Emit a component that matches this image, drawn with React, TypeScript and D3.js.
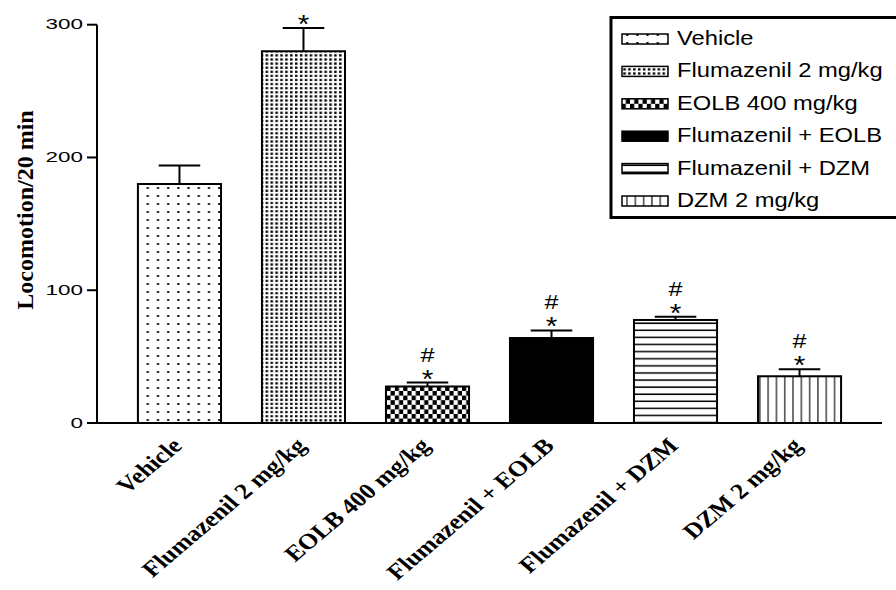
import * as d3 from "d3"
import { useEffect, useRef } from "react"

const categories = [
  "Vehicle",
  "Flumazenil 2 mg/kg",
  "EOLB 400 mg/kg",
  "Flumazenil + EOLB",
  "Flumazenil + DZM",
  "DZM 2 mg/kg",
]
const means = [180, 280, 27.5, 64, 77.6, 35.2]
const errors = [14, 17.5, 3, 5.7, 2.5, 5.3]
const starFlags = [false, true, true, true, true, true]
const hashFlags = [false, false, true, true, true, true]
const yTicks = [0, 100, 200, 300]

const WIDTH = 896
const HEIGHT = 590

const BarChart = () => {
  const svgRef = useRef<SVGSVGElement>(null)

  useEffect(() => {
    if (!svgRef.current) return
    const svg = d3.select(svgRef.current)
    svg.selectAll("*").remove()

    // patterns for the bar fills
    const defs = svg.append("defs")
    const pattern = (id: string, w: number, h: number) => {
      const p = defs
        .append("pattern")
        .attr("id", id)
        .attr("patternUnits", "userSpaceOnUse")
        .attr("width", w)
        .attr("height", h)
      p.append("rect").attr("width", w).attr("height", h).attr("fill", "#fff")
      return p
    }
    pattern("pat-dots", 10.2, 8)
      .append("rect")
      .attr("x", 4)
      .attr("y", 3)
      .attr("width", 2)
      .attr("height", 2)
      .attr("fill", "#000")
    pattern("pat-dense", 4.9, 4.1)
      .append("rect")
      .attr("x", 1)
      .attr("y", 1)
      .attr("width", 2.5)
      .attr("height", 2.2)
      .attr("fill", "#000")
    const chk = pattern("pat-check", 8.4, 9.2)
    chk.append("rect").attr("width", 4.2).attr("height", 4.6).attr("fill", "#000")
    chk
      .append("rect")
      .attr("x", 4.2)
      .attr("y", 4.6)
      .attr("width", 4.2)
      .attr("height", 4.6)
      .attr("fill", "#000")
    pattern("pat-hlines", 10, 7.1)
      .append("rect")
      .attr("y", 3)
      .attr("width", 10)
      .attr("height", 1.5)
      .attr("fill", "#000")
    pattern("pat-vlines", 8.3, 10)
      .append("rect")
      .attr("x", 4)
      .attr("width", 1.1)
      .attr("height", 10)
      .attr("fill", "#000")

    const fills = [
      "url(#pat-dots)",
      "url(#pat-dense)",
      "url(#pat-check)",
      "#000",
      "url(#pat-hlines)",
      "url(#pat-vlines)",
    ]

    const xScale = d3
      .scaleBand()
      .domain(categories)
      .range([97, 882])
      .paddingInner(0.33)
      .paddingOuter(0.33)

    const yScale = d3.scaleLinear().domain([0, 300]).range([423, 24.7])

    const data = categories.map((c, i) => ({
      name: c,
      mean: means[i],
      err: errors[i],
      star: starFlags[i],
      hash: hashFlags[i],
      fill: fills[i],
    }))

    // error bars
    const bw = xScale.bandwidth()
    const cx = (d: { name: string }) => (xScale(d.name) ?? 0) + bw / 2
    svg
      .selectAll("line.err")
      .data(data)
      .join("line")
      .attr("class", "err")
      .attr("x1", cx)
      .attr("x2", cx)
      .attr("y1", (d) => yScale(d.mean))
      .attr("y2", (d) => yScale(d.mean + d.err))
      .attr("stroke", "#000")
      .attr("stroke-width", 2)
    svg
      .selectAll("line.cap")
      .data(data)
      .join("line")
      .attr("class", "cap")
      .attr("x1", (d) => cx(d) - bw / 4)
      .attr("x2", (d) => cx(d) + bw / 4)
      .attr("y1", (d) => yScale(d.mean + d.err))
      .attr("y2", (d) => yScale(d.mean + d.err))
      .attr("stroke", "#000")
      .attr("stroke-width", 2)

    // bars
    svg
      .selectAll("rect.bar")
      .data(data)
      .join("rect")
      .attr("class", "bar")
      .attr("x", (d) => xScale(d.name) ?? 0)
      .attr("y", (d) => yScale(d.mean))
      .attr("width", bw)
      .attr("height", (d) => yScale(0) - yScale(d.mean))
      .attr("fill", (d) => d.fill)
      .attr("stroke", "#000")
      .attr("stroke-width", 2)

    // significance marks
    svg
      .selectAll("text.star")
      .data(data.filter((d) => d.star))
      .join("text")
      .attr("class", "star")
      .attr(
        "transform",
        (d) => `translate(${cx(d)},${yScale(d.mean + d.err) + 5}) scale(1.15,1)`,
      )
      .attr("text-anchor", "middle")
      .attr("font-family", "Liberation Sans, Arial, sans-serif")
      .attr("font-size", 26)
      .text("*")
    svg
      .selectAll("text.hash")
      .data(data.filter((d) => d.hash))
      .join("text")
      .attr("class", "hash")
      .attr(
        "transform",
        (d) => `translate(${cx(d)},${yScale(d.mean + d.err) - 21}) scale(1.2,1)`,
      )
      .attr("text-anchor", "middle")
      .attr("font-family", "Liberation Sans, Arial, sans-serif")
      .attr("font-size", 21)
      .text("#")

    // axes
    svg
      .append("line")
      .attr("x1", 97)
      .attr("x2", 97)
      .attr("y1", yScale(300))
      .attr("y2", yScale(0))
      .attr("stroke", "#000")
      .attr("stroke-width", 2)
    svg
      .append("line")
      .attr("x1", 96)
      .attr("x2", xScale.range()[1])
      .attr("y1", yScale(0))
      .attr("y2", yScale(0))
      .attr("stroke", "#000")
      .attr("stroke-width", 2)
    svg
      .selectAll("line.tick")
      .data(yTicks)
      .join("line")
      .attr("class", "tick")
      .attr("x1", 87)
      .attr("x2", 97)
      .attr("y1", (d) => yScale(d))
      .attr("y2", (d) => yScale(d))
      .attr("stroke", "#000")
      .attr("stroke-width", 2)
    svg
      .selectAll("text.tick")
      .data(yTicks)
      .join("text")
      .attr("class", "tick")
      .attr("transform", (d) => `translate(83,${yScale(d) + 4.5}) scale(1.45,1)`)
      .attr("text-anchor", "end")
      .attr("font-family", "Liberation Sans, Arial, sans-serif")
      .attr("font-size", 15.5)
      .text((d) => d)

    // y-axis label
    svg
      .append("text")
      .attr("transform", "translate(33,210) rotate(-90)")
      .attr("text-anchor", "middle")
      .attr("font-family", "Liberation Serif, Times New Roman, serif")
      .attr("font-weight", "bold")
      .attr("font-size", 24)
      .text("Locomotion/20 min")

    // category labels
    svg
      .selectAll("text.cat")
      .data(data)
      .join("text")
      .attr("class", "cat")
      .attr(
        "transform",
        (d) => `translate(${cx(d) + 4},447) scale(1.18,1) rotate(-45)`,
      )
      .attr("text-anchor", "end")
      .attr("font-family", "Liberation Serif, Times New Roman, serif")
      .attr("font-weight", "bold")
      .attr("font-size", 22)
      .text((d) => d.name)

    // legend
    const legend = svg.append("g")
    legend
      .append("rect")
      .attr("x", 611)
      .attr("y", 17.5)
      .attr("width", 300)
      .attr("height", 200)
      .attr("fill", "#fff")
      .attr("stroke", "#000")
      .attr("stroke-width", 3)
    const rowY = d3.scaleLinear().domain([0, 5]).range([39, 201])
    const rows = legend
      .selectAll("g.row")
      .data(data)
      .join("g")
      .attr("class", "row")
      .attr("transform", (d, i) => `translate(0,${rowY(i)})`)
    rows
      .append("rect")
      .attr("x", 622)
      .attr("y", -5)
      .attr("width", 46)
      .attr("height", 10)
      .attr("fill", (d) => d.fill)
      .attr("stroke", "#000")
      .attr("stroke-width", 1.5)
    rows
      .append("text")
      .attr("transform", "translate(677,6) scale(1.13,1)")
      .attr("font-family", "Liberation Sans, Arial, sans-serif")
      .attr("font-size", 21)
      .text((d) => d.name)
  }, [])

  return (
    <svg
      ref={svgRef}
      width={WIDTH}
      height={HEIGHT}
      style={{ position: "absolute", left: 0, top: 0, display: "block", background: "#fff" }}
    />
  )
}

export default function App() {
  return <BarChart />
}
